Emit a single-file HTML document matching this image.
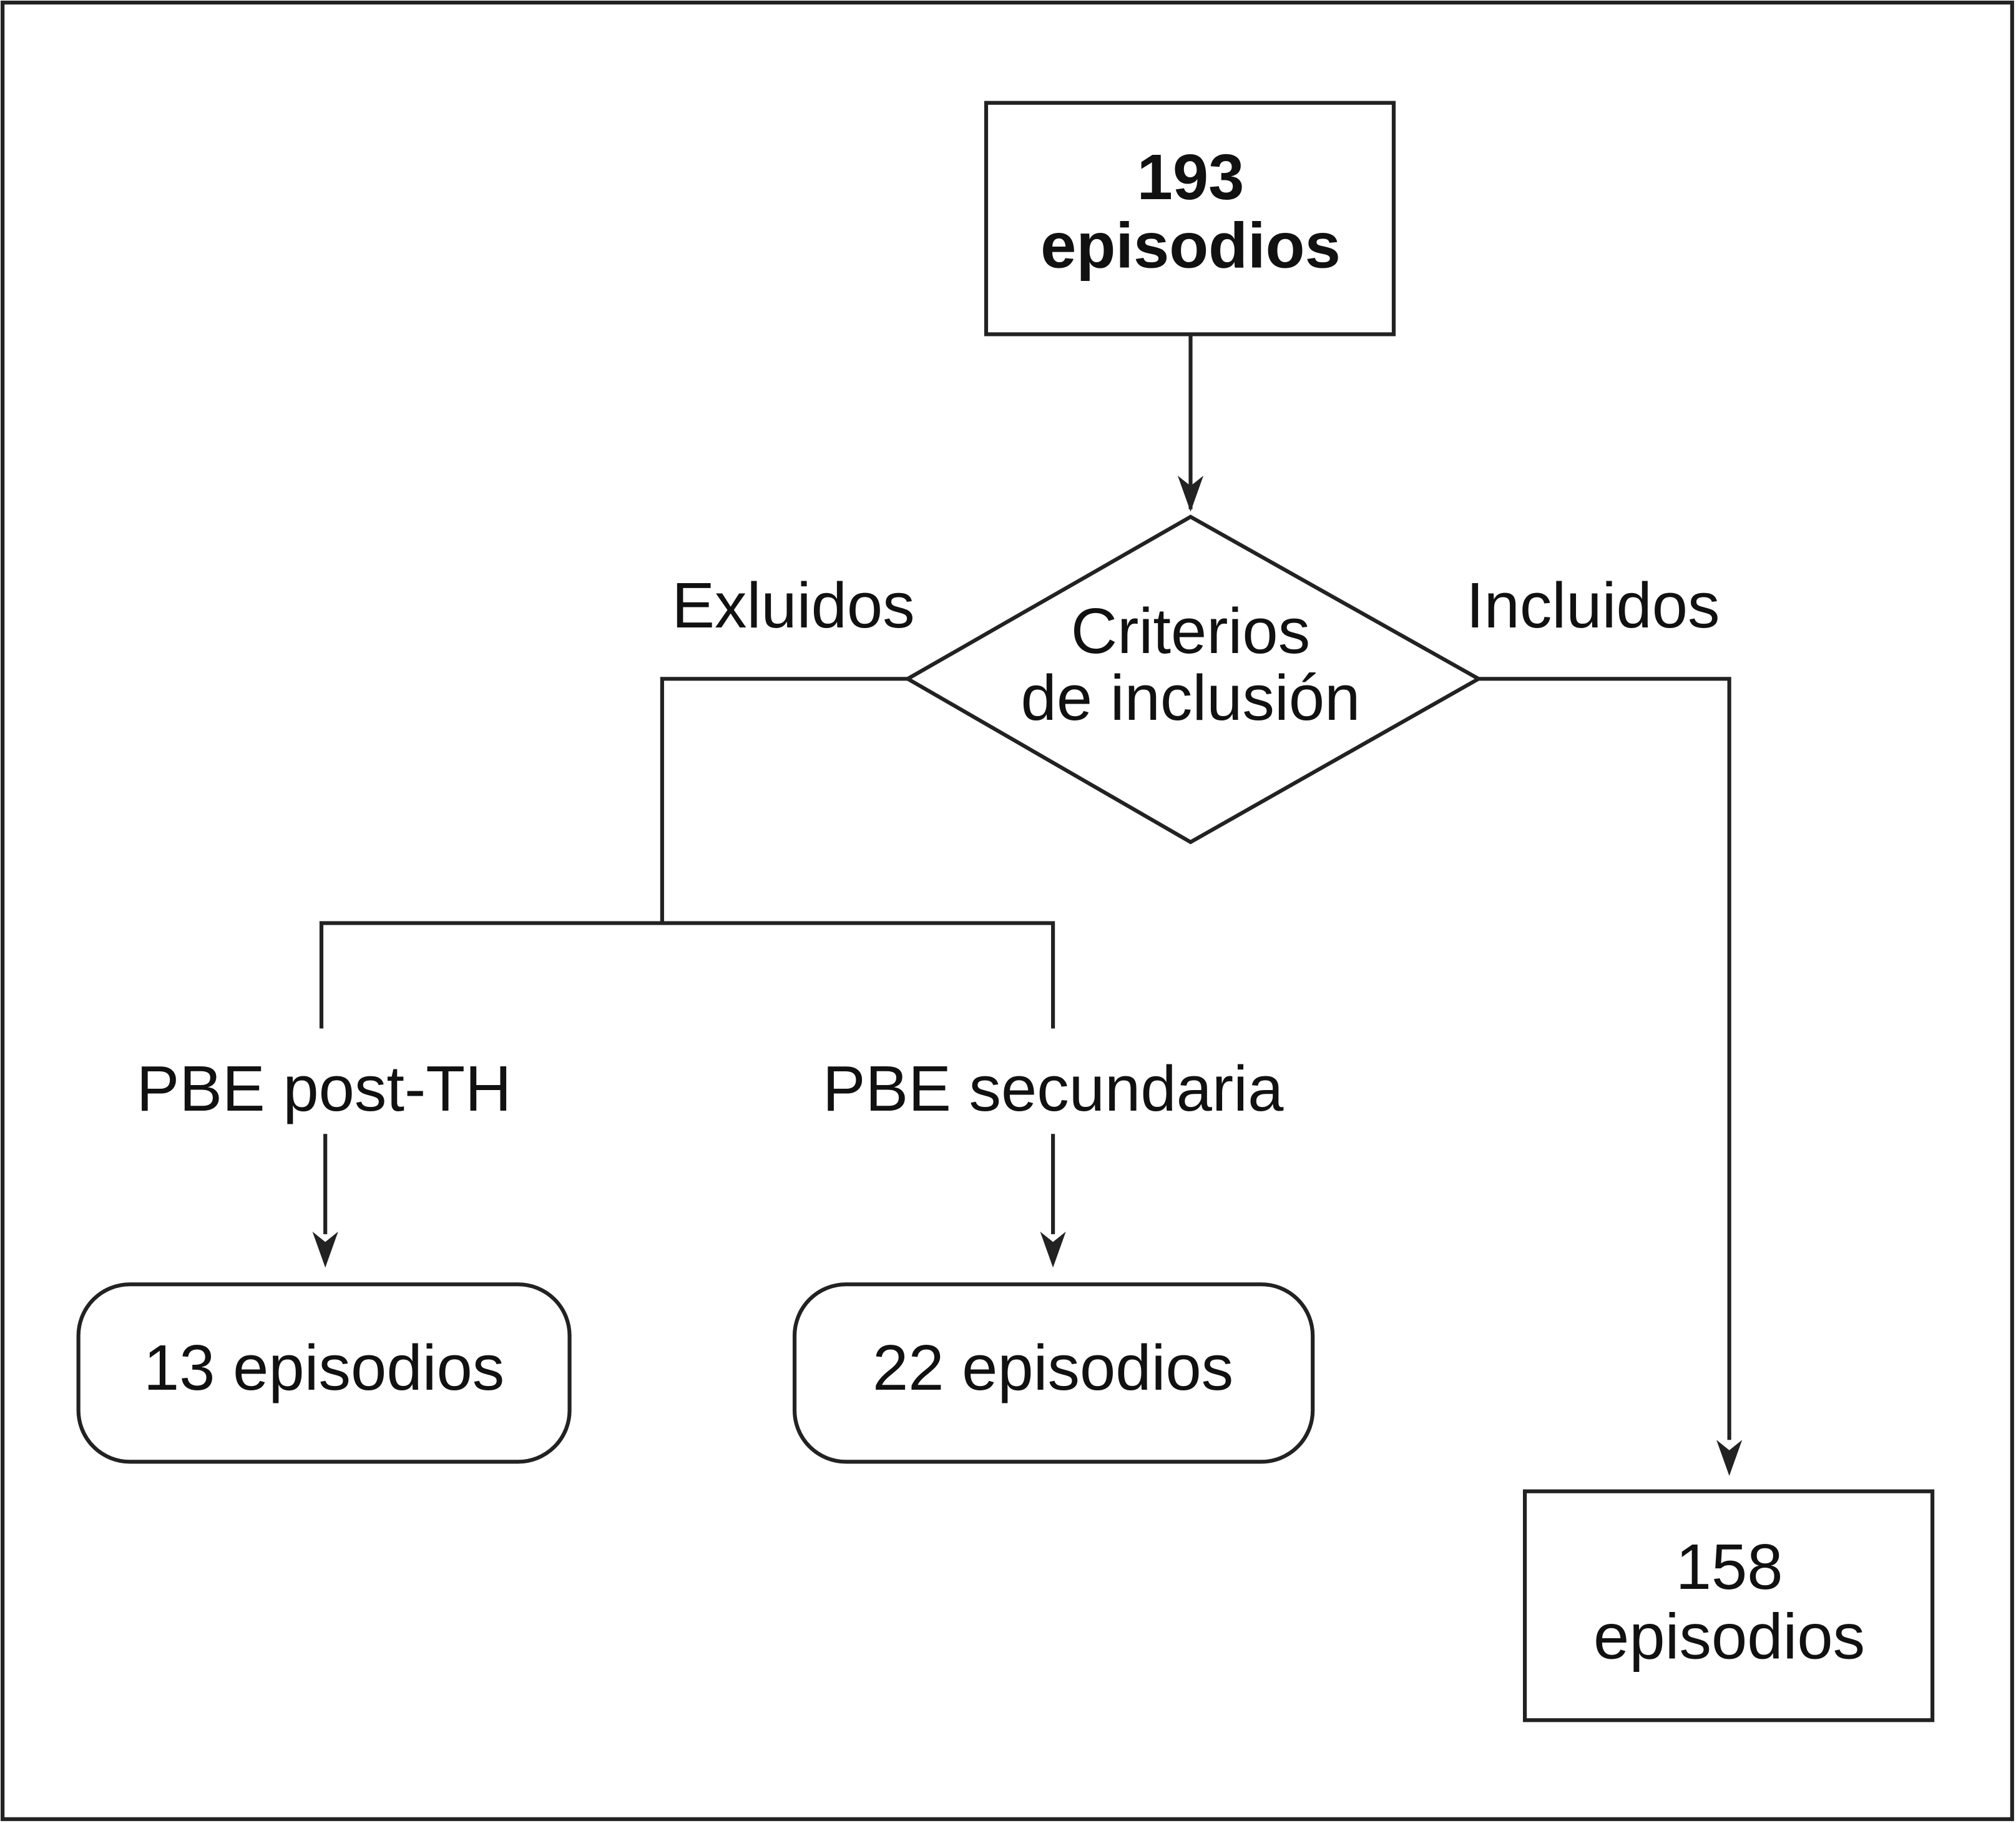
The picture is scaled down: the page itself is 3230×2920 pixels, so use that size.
<!DOCTYPE html>
<html><head><meta charset="utf-8"><style>html,body{margin:0;padding:0;background:#fff}svg{display:block}</style></head>
<body>
<svg width="3230" height="2920" viewBox="0 0 1568 1418" preserveAspectRatio="none" xmlns="http://www.w3.org/2000/svg" font-family="Liberation Sans, Arial, sans-serif" fill="none" stroke="#222" stroke-width="3">
<defs><marker id="a" viewBox="0 0 10 10" refX="10" refY="5" markerWidth="7" markerHeight="7" markerUnits="userSpaceOnUse" orient="auto"><path d="M0,0 L10,5 L0,10 L3,5 z" fill="#222" stroke="none"/></marker></defs>
<rect x="2" y="2" width="1563" height="1413" stroke-width="3"/>
<rect x="767" y="80" width="317" height="180"/>
<path d="M926,260 V396" />
<path d="M916,370 L926,398 L936,370 L926,378 z" fill="#222" stroke="none"/>
<polygon points="926,402 1150,528 926,655 706,528"/>
<path d="M706,528 H515 V718 M250,800 V718 H819 V800"/>
<path d="M1150,528 H1345 V1120"/>
<path d="M1335,1120 L1345,1148 L1355,1120 L1345,1128 z" fill="#222" stroke="none"/>
<path d="M253,882 V960 M819,882 V960"/>
<path d="M243,958 L253,986 L263,958 L253,966 z M809,958 L819,986 L829,958 L819,966 z" fill="#222" stroke="none"/>
<rect x="61" y="999" width="382" height="138" rx="40"/>
<rect x="618" y="999" width="403" height="138" rx="40"/>
<rect x="1186" y="1160" width="317" height="178"/>
<g fill="#111" stroke="none" font-size="50" text-anchor="middle">
<text x="926" y="155" font-weight="bold">193</text>
<text x="926" y="208" font-weight="bold">episodios</text>
<text x="926" y="508">Criterios</text>
<text x="926" y="560">de inclusión</text>
<text x="617" y="488">Exluidos</text>
<text x="1239" y="488">Incluidos</text>
<text x="252" y="864">PBE post-TH</text>
<text x="819" y="864">PBE secundaria</text>
<text x="252" y="1081">13 episodios</text>
<text x="819" y="1081">22 episodios</text>
<text x="1345" y="1236">158</text>
<text x="1345" y="1290">episodios</text>
</g>
</svg>
</body></html>
